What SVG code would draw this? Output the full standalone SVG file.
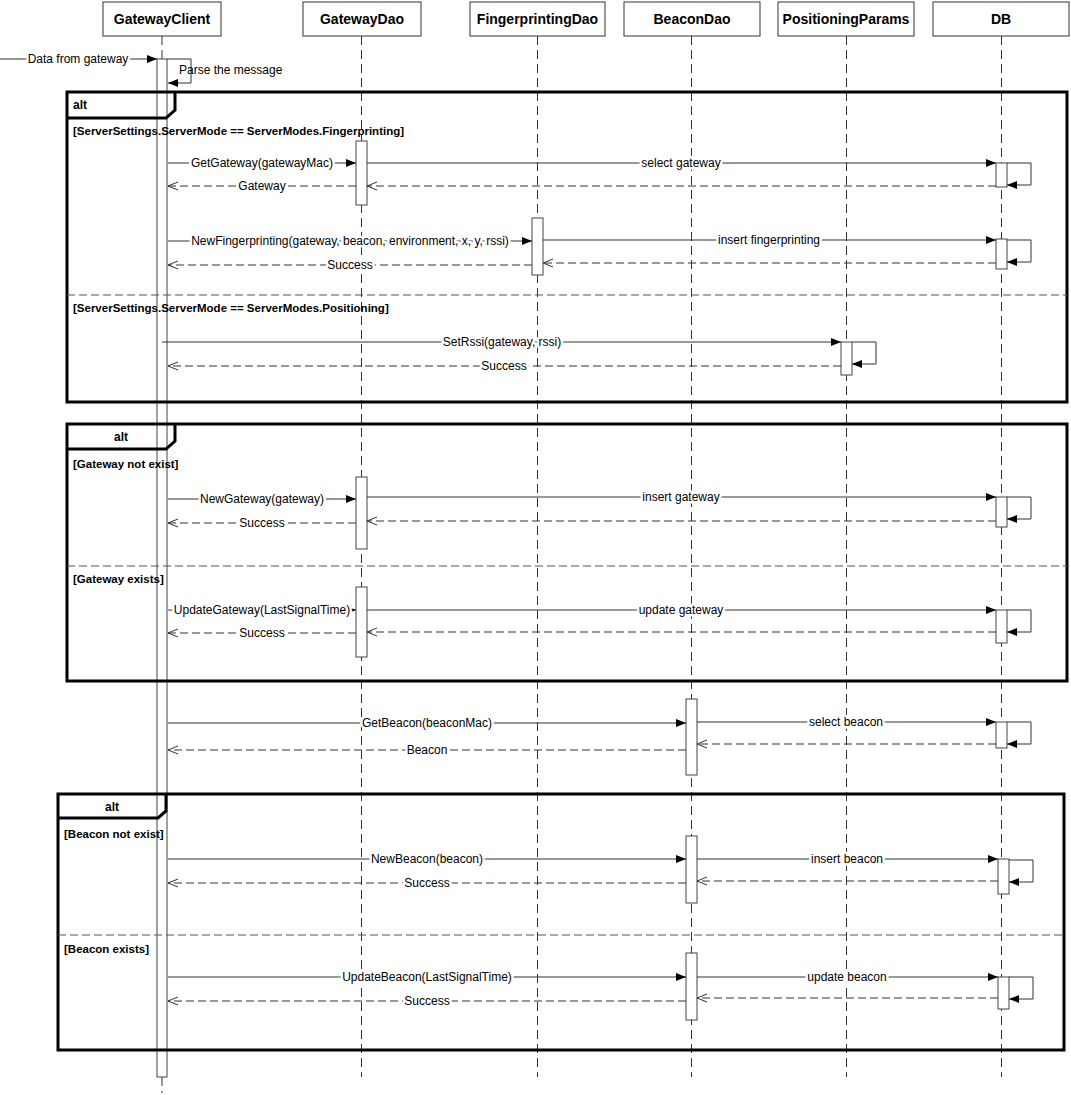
<svg xmlns="http://www.w3.org/2000/svg" width="1071" height="1095" viewBox="0 0 1071 1095">
<style>
text{font-family:"Liberation Sans",Arial,sans-serif;fill:#000}
.hdr{font-size:14px;font-weight:bold;text-anchor:middle}
.lbl{font-size:12px;text-anchor:middle;stroke:#fff;stroke-width:5;stroke-linejoin:round;paint-order:stroke}
.lbs{font-size:12px;text-anchor:start}
.grd{font-size:11.5px;font-weight:bold}
.alt{font-size:12px;font-weight:bold}
.box{fill:#fff;stroke:#333;stroke-width:1}
.life{stroke:#333;stroke-width:1;stroke-dasharray:9 5;fill:none}
.bar{fill:#fff;stroke:#444;stroke-width:1}
.frame{fill:none;stroke:#000;stroke-width:3}
.tab{fill:none;stroke:#000;stroke-width:3;stroke-linejoin:miter}
.div{stroke:#555;stroke-width:1.2;stroke-dasharray:8 4;fill:none}
.msg{stroke:#333;stroke-width:1;fill:none;marker-end:url(#fa)}
.ret{stroke:#333;stroke-width:1;fill:none;stroke-dasharray:8 4;marker-end:url(#oa)}
</style>
<defs>
<marker id="fa" markerUnits="userSpaceOnUse" markerWidth="11" markerHeight="10" refX="10" refY="4" orient="auto" overflow="visible">
<path d="M0,0 L10,4 L0,8 z" fill="#000"/>
</marker>
<marker id="oa" markerUnits="userSpaceOnUse" markerWidth="11" markerHeight="10" refX="10" refY="4" orient="auto" overflow="visible">
<path d="M0,0 L10,4 L0,8" fill="none" stroke="#333" stroke-width="1"/>
</marker>
</defs>
<rect width="1071" height="1095" fill="#fff"/>

<g id="GatewayClient">
<rect class="box" x="103" y="2" width="118" height="34"/>
<text class="hdr" x="162" y="24">GatewayClient</text>
<line class="life" x1="162" y1="36" x2="162" y2="59"/>
<line class="life" x1="162" y1="1077" x2="162" y2="1093"/>
<rect class="bar" x="157" y="59" width="10" height="1018"/>
</g>
<g id="GatewayDao">
<rect class="box" x="303" y="2" width="118" height="34"/>
<text class="hdr" x="362" y="24">GatewayDao</text>
<line class="life" x1="361.5" y1="36" x2="361.5" y2="1077"/>
<rect class="bar" x="356" y="141" width="11" height="64"/>
<rect class="bar" x="356" y="477" width="11" height="72"/>
<rect class="bar" x="356" y="587" width="11" height="70"/>
</g>
<g id="FingerprintingDao">
<rect class="box" x="470" y="2" width="135" height="34"/>
<text class="hdr" x="537.5" y="24">FingerprintingDao</text>
<line class="life" x1="537.5" y1="36" x2="537.5" y2="1077"/>
<rect class="bar" x="532" y="218" width="11" height="57"/>
</g>
<g id="BeaconDao">
<rect class="box" x="624" y="2" width="136" height="34"/>
<text class="hdr" x="692" y="24">BeaconDao</text>
<line class="life" x1="691.5" y1="36" x2="691.5" y2="1077"/>
<rect class="bar" x="686" y="699" width="11" height="76"/>
<rect class="bar" x="686" y="836" width="11" height="67"/>
<rect class="bar" x="686" y="953" width="11" height="67"/>
</g>
<g id="PositioningParams">
<rect class="box" x="778" y="2" width="136" height="34"/>
<text class="hdr" x="846" y="24">PositioningParams</text>
<line class="life" x1="846.5" y1="36" x2="846.5" y2="1077"/>
<rect class="bar" x="841" y="342" width="11" height="33"/>
</g>
<g id="DB">
<rect class="box" x="933" y="2" width="136" height="34"/>
<text class="hdr" x="1001" y="24">DB</text>
<line class="life" x1="1001.5" y1="36" x2="1001.5" y2="1077"/>
<rect class="bar" x="996" y="163" width="11" height="24"/>
<rect class="bar" x="996" y="239" width="11" height="30"/>
<rect class="bar" x="996" y="497" width="11" height="30"/>
<rect class="bar" x="996" y="610" width="11" height="33"/>
<rect class="bar" x="996" y="722" width="11" height="26"/>
<rect class="bar" x="998" y="859" width="11" height="35"/>
<rect class="bar" x="998" y="977" width="11" height="32"/>
</g>

<g id="alt1">
<rect class="frame" x="67" y="92" width="1000" height="310"/>
<path class="tab" d="M175,92 V110 L166,118 H67"/>
<text class="alt" x="73" y="109">alt</text>
<text class="grd" x="73" y="135">[ServerSettings.ServerMode == ServerModes.Fingerprinting]</text>
<line class="div" x1="67" y1="295" x2="1067" y2="295"/>
<text class="grd" x="73" y="312">[ServerSettings.ServerMode == ServerModes.Positioning]</text>
</g>
<g id="alt2">
<rect class="frame" x="67" y="424" width="1000" height="257"/>
<path class="tab" d="M175,424 V441 L166,449 H67"/>
<text class="alt" x="121" y="441" text-anchor="middle">alt</text>
<text class="grd" x="73" y="468">[Gateway not exist]</text>
<line class="div" x1="67" y1="566" x2="1067" y2="566"/>
<text class="grd" x="73" y="583">[Gateway exists]</text>
</g>
<g id="alt3">
<rect class="frame" x="58" y="794" width="1006" height="256"/>
<path class="tab" d="M166,794 V811 L158,818 H58"/>
<text class="alt" x="112" y="811" text-anchor="middle">alt</text>
<text class="grd" x="64" y="838">[Beacon not exist]</text>
<line class="div" x1="58" y1="935" x2="1064" y2="935"/>
<text class="grd" x="64" y="953">[Beacon exists]</text>
</g>

<g id="connectors">
<path class="msg" d="M0,59 H157"/>
<text class="lbl" x="78" y="63">Data from gateway</text>
<path class="msg" d="M167,59 H191 V83 H168"/>
<text class="lbs" x="179" y="74">Parse the message</text>

<path class="msg" d="M168,163 H356"/>
<text class="lbl" x="262" y="167">GetGateway(gatewayMac)</text>
<path class="msg" d="M367,163 H996"/>
<text class="lbl" x="681" y="167">select gateway</text>
<path class="msg" d="M1007,163 H1031 V185 H1007"/>
<path class="ret" d="M996,186 H367"/>
<path class="ret" d="M356,186 H168"/>
<text class="lbl" x="262" y="190">Gateway</text>

<path class="msg" d="M168,241 H532"/>
<text class="lbl" x="350" y="245">NewFingerprinting(gateway, beacon, environment, x, y, rssi)</text>
<path class="msg" d="M543,240 H996"/>
<text class="lbl" x="769" y="244">insert fingerprinting</text>
<path class="msg" d="M1007,240 H1031 V262 H1007"/>
<path class="ret" d="M996,263 H543"/>
<path class="ret" d="M532,265 H168"/>
<text class="lbl" x="350" y="269">Success</text>

<path class="msg" d="M162,342 H841"/>
<text class="lbl" x="502" y="346">SetRssi(gateway, rssi)</text>
<path class="msg" d="M852,342 H876 V364 H852"/>
<path class="ret" d="M841,366 H168"/>
<text class="lbl" x="504" y="370">Success</text>

<path class="msg" d="M168,499 H356"/>
<text class="lbl" x="262" y="503">NewGateway(gateway)</text>
<path class="msg" d="M367,497 H996"/>
<text class="lbl" x="681" y="501">insert gateway</text>
<path class="msg" d="M1007,497 H1031 V519 H1007"/>
<path class="ret" d="M996,521 H367"/>
<path class="ret" d="M356,523 H168"/>
<text class="lbl" x="262" y="527">Success</text>

<path class="msg" d="M168,610 H356"/>
<text class="lbl" x="262" y="614">UpdateGateway(LastSignalTime)</text>
<path class="msg" d="M367,610 H996"/>
<text class="lbl" x="681" y="614">update gateway</text>
<path class="msg" d="M1007,610 H1031 V632 H1007"/>
<path class="ret" d="M996,632 H367"/>
<path class="ret" d="M356,633 H168"/>
<text class="lbl" x="262" y="637">Success</text>

<path class="msg" d="M168,723 H686"/>
<text class="lbl" x="427" y="727">GetBeacon(beaconMac)</text>
<path class="msg" d="M697,722 H996"/>
<text class="lbl" x="846" y="726">select beacon</text>
<path class="msg" d="M1007,722 H1031 V744 H1007"/>
<path class="ret" d="M996,744 H697"/>
<path class="ret" d="M686,750 H168"/>
<text class="lbl" x="427" y="754">Beacon</text>

<path class="msg" d="M168,859 H686"/>
<text class="lbl" x="427" y="863">NewBeacon(beacon)</text>
<path class="msg" d="M697,859 H998"/>
<text class="lbl" x="847" y="863">insert beacon</text>
<path class="msg" d="M1009,860 H1033 V882 H1009"/>
<path class="ret" d="M998,881 H697"/>
<path class="ret" d="M686,883 H168"/>
<text class="lbl" x="427" y="887">Success</text>

<path class="msg" d="M168,977 H686"/>
<text class="lbl" x="427" y="981">UpdateBeacon(LastSignalTime)</text>
<path class="msg" d="M697,977 H998"/>
<text class="lbl" x="847" y="981">update beacon</text>
<path class="msg" d="M1009,977 H1033 V999 H1009"/>
<path class="ret" d="M998,998 H697"/>
<path class="ret" d="M686,1001 H168"/>
<text class="lbl" x="427" y="1005">Success</text>
</g>
</svg>
